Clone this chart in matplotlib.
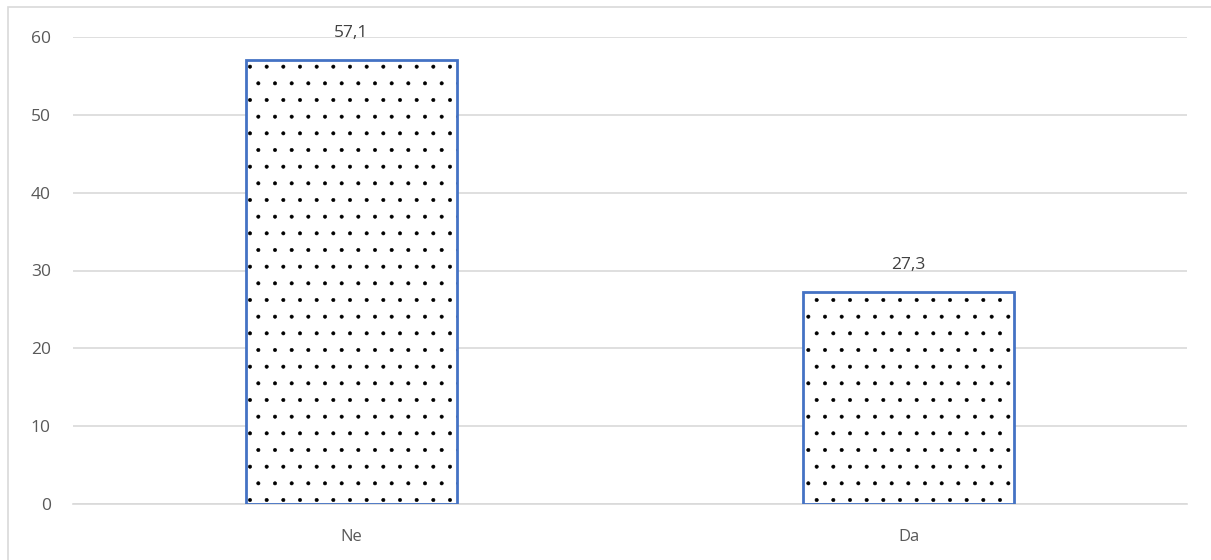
import matplotlib
matplotlib.use("Agg")
import matplotlib.pyplot as plt
from matplotlib.patches import Rectangle

categories = ["Ne", "Da"]
values = [57.1, 27.3]
labels = ["57,1", "27,3"]
yticks = [0, 10, 20, 30, 40, 50, 60]

plt.rcParams['font.family'] = ['Open Sans', 'DejaVu Sans']
plt.rcParams['hatch.linewidth'] = 0.4

W, H = 1211, 560
fig = plt.figure(figsize=(W / 100, H / 100), dpi=100)
ax = fig.add_axes([73 / W, 56 / H, (1187 - 73) / W, (504 - 37) / H])

# outer chart border
fig.add_artist(Rectangle((8 / W, -0.01), 1.0, 1 - 7 / H + 0.01, transform=fig.transFigure,
                         fill=False, edgecolor="#d9d9d9", linewidth=1.2))

x = range(len(categories))
# dotted pattern, then blue outline on top
ax.bar(x, values, width=0.38, color="white", edgecolor="black", hatch=".", linewidth=0, zorder=2)
ax.bar(x, values, width=0.38, fill=False, edgecolor="#4472C4", linewidth=2, zorder=3)

for xi, v, lab in zip(x, values, labels):
    ax.text(xi, v + 2.4, lab, ha="center", va="bottom", fontsize=12.5, color="#404040")

ax.set_xlim(-0.5, 1.5)
ax.set_ylim(0, 60)
ax.set_yticks(yticks)
ax.set_xticks(list(x))
ax.set_xticklabels(categories)
ax.tick_params(axis="y", length=0, pad=16, labelsize=12.5, labelcolor="#595959")
ax.tick_params(axis="x", length=0, pad=18, labelsize=12, labelcolor="#595959")
ax.grid(axis="y", color="#d9d9d9", linewidth=1.2, zorder=0)
ax.set_axisbelow(True)
for s in ax.spines.values():
    s.set_visible(False)
ax.spines["bottom"].set_visible(True)
ax.spines["bottom"].set_color("#d9d9d9")
ax.spines["bottom"].set_linewidth(1.2)

fig.savefig("out.png", dpi=100)
